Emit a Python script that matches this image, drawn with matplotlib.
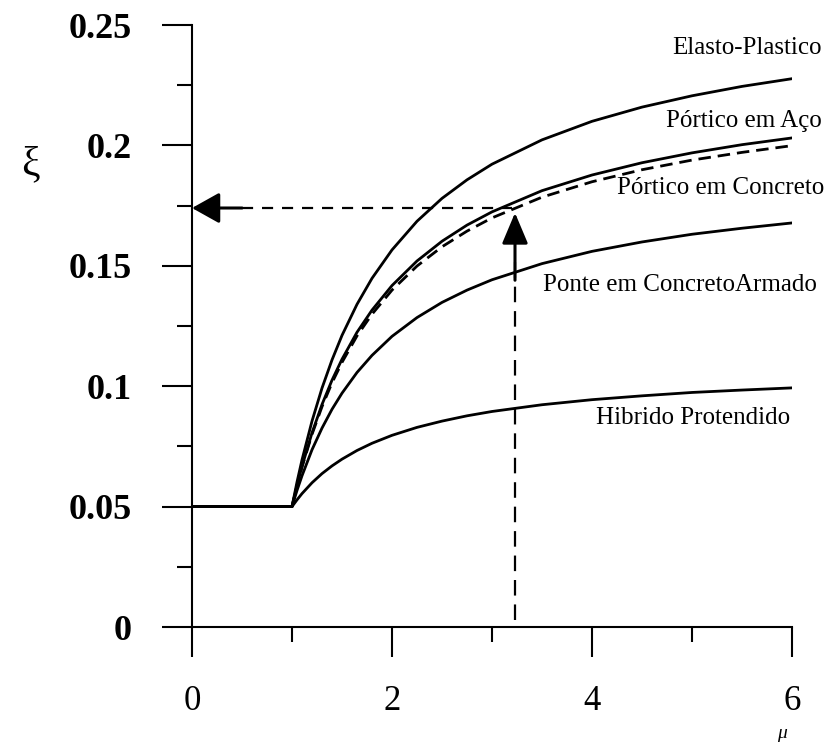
import matplotlib
matplotlib.use("Agg")
import matplotlib.pyplot as plt
from matplotlib.ticker import MultipleLocator

# ductility values (mu) at which the curves were read
mu = [0, 1, 1.05, 1.1, 1.2, 1.3, 1.4, 1.5, 1.65, 1.8, 2, 2.25, 2.5, 2.75, 3,
      3.5, 4, 4.5, 5, 5.5, 6]

elasto_plastico = [0.05, 0.05, 0.0602, 0.0694, 0.0855, 0.0992, 0.1109, 0.1211,
                   0.1340, 0.1448, 0.1566, 0.1685, 0.1780, 0.1857, 0.1922,
                   0.2023, 0.2100, 0.2159, 0.2206, 0.2245, 0.2277]
portico_aco = [0.05, 0.05, 0.0587, 0.0667, 0.0806, 0.0924, 0.1025, 0.1112,
               0.1224, 0.1316, 0.1418, 0.1520, 0.1602, 0.1669, 0.1724,
               0.1812, 0.1877, 0.1928, 0.1969, 0.2003, 0.2031]
portico_concreto = [0.05, 0.05, 0.0586, 0.0664, 0.0800, 0.0915, 0.1014, 0.1099,
                    0.1209, 0.1299, 0.1399, 0.1499, 0.1579, 0.1644, 0.1699,
                    0.1785, 0.1849, 0.1899, 0.1939, 0.1971, 0.1999]
ponte_concreto = [0.05, 0.05, 0.0567, 0.0628, 0.0736, 0.0826, 0.0904, 0.0971,
                  0.1057, 0.1128, 0.1207, 0.1285, 0.1348, 0.1399, 0.1442,
                  0.1509, 0.1560, 0.1599, 0.1631, 0.1656, 0.1678]
hibrido = [0.05, 0.05, 0.0528, 0.0554, 0.0599, 0.0637, 0.0669, 0.0697,
           0.0733, 0.0763, 0.0796, 0.0829, 0.0855, 0.0877, 0.0895,
           0.0923, 0.0944, 0.0960, 0.0974, 0.0984, 0.0993]

labels = ["Elasto-Plastico", "Pórtico em Aço", "Pórtico em Concreto",
          "Ponte em ConcretoArmado", "Hibrido Protendido"]
label_y = [0.2404, 0.2100, 0.1823, 0.1420, 0.0868]
label_x = [6.30, 6.30, 6.32, 6.25, 5.98]

x_ticks = [0, 2, 4, 6]
y_ticks = [0, 0.05, 0.1, 0.15, 0.2, 0.25]
y_ticklabels = ["0", "0.05", "0.1", "0.15", "0.2", "0.25"]

design_mu = 3.23
design_xi = 0.174

serif = ["Liberation Serif", "DejaVu Serif"]
plt.rcParams["font.family"] = serif

fig = plt.figure(figsize=(8.31, 7.45), dpi=100)
ax = fig.add_axes([192 / 831, 118 / 745, 600 / 831, 602 / 745])

lw = 2.0
ax.plot(mu, elasto_plastico, color="black", lw=lw)
ax.plot(mu, portico_aco, color="black", lw=lw)
ax.plot(mu, portico_concreto, color="black", lw=lw, linestyle=(0, (4.5, 2.5)))
ax.plot(mu, ponte_concreto, color="black", lw=lw)
ax.plot(mu, hibrido, color="black", lw=lw)

for t, xx, yy in zip(labels, label_x, label_y):
    ax.text(xx, yy, t, ha="right", va="center", fontsize=18,
            family=serif, clip_on=False)

# horizontal dashed guide with arrow to the axis
ax.plot([0.5, design_mu - 0.03], [design_xi, design_xi], color="black",
        lw=1.6, linestyle=(0, (5, 4)))
ax.annotate("", xy=(0, design_xi), xytext=(0.5, design_xi),
            arrowprops=dict(arrowstyle="-|>,head_length=17,head_width=9.5",
                            mutation_scale=1, color="black", lw=2.2,
                            shrinkA=0, shrinkB=0))
# vertical dashed guide with arrow up
ax.plot([design_mu, design_mu], [0.003, design_xi - 0.02], color="black",
        lw=1.6, linestyle=(0, (7, 4)))
ax.annotate("", xy=(design_mu, design_xi - 0.002),
            xytext=(design_mu, design_xi - 0.03),
            arrowprops=dict(arrowstyle="-|>,head_length=19,head_width=8",
                            mutation_scale=1, color="black", lw=2.2,
                            shrinkA=0, shrinkB=0))

ax.set_xlim(0, 6)
ax.set_ylim(0, 0.25)
for s in ("top", "right"):
    ax.spines[s].set_visible(False)
for s in ("left", "bottom"):
    ax.spines[s].set_linewidth(1.5)

ax.set_xticks(x_ticks)
ax.set_xticklabels([str(v) for v in x_ticks])
ax.xaxis.set_minor_locator(MultipleLocator(1))
ax.set_yticks(y_ticks)
ax.set_yticklabels(y_ticklabels)
ax.yaxis.set_minor_locator(MultipleLocator(0.025))

ax.tick_params(which="major", length=21.5, width=1.5, direction="out")
ax.tick_params(axis="y", which="major", pad=22)
ax.tick_params(axis="x", which="major", pad=20)
ax.tick_params(which="minor", length=11, width=1.5, direction="out")
for lab in ax.get_xticklabels():
    lab.set_fontsize(25)
    lab.set_family(serif)
for lab in ax.get_yticklabels():
    lab.set_fontsize(26)
    lab.set_fontweight("bold")
    lab.set_family(serif)

fig.text(30 / 831, 1 - 165 / 745, "ξ", fontsize=30, ha="center", va="center",
         family=serif)
fig.text(782 / 831, 1 - 733 / 745, "μ", fontsize=14, style="italic",
         ha="center", va="center", family=serif)

fig.savefig("out.png", dpi=100, facecolor="white")
